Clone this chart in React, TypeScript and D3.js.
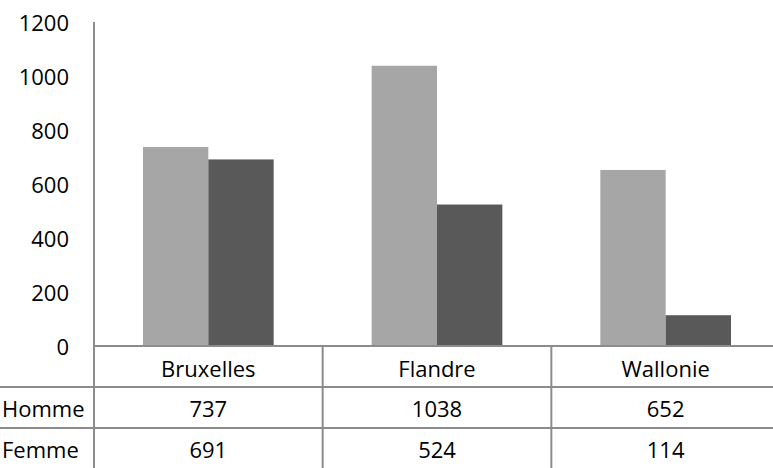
import React from "react";
import * as d3 from "d3";

const categories = ["Bruxelles", "Flandre", "Wallonie"];
const seriesNames = ["Homme", "Femme"];
const homme = [737, 1038, 652];
const femme = [691, 524, 114];
const yTicks = [0, 200, 400, 600, 800, 1000, 1200];
const colors = ["#a6a6a6", "#595959"];

export default function App() {
  const W = 773, H = 468;
  const x0 = 94, x1 = 780;
  const yTop = 22, yBase = 346;
  const row1 = 387, row2 = 428;
  const font = "'Open Sans', 'Liberation Sans', sans-serif";
  const fs = 22;

  const x = d3.scaleBand<string>().domain(categories).range([x0, x1]).paddingInner(0).paddingOuter(0);
  const y = d3.scaleLinear().domain([0, 1200]).range([yBase, yTop]);
  const values = [homme, femme];
  const bw = x.bandwidth();
  const barW = bw / 3.5;
  const gap = (bw - 2 * barW) / 2;
  const lineCol = "#8c8c8c";

  return (
    <svg width={W} height={H} style={{ position: "absolute", left: 0, top: 0, background: "#fff" }} fontFamily={font}>
      {yTicks.map((t) => (
        <text key={t} x={69} y={y(t)} textAnchor="end" dominantBaseline="central" fontSize={fs} fill="#000">
          {t}
        </text>
      ))}
      {categories.map((c, i) =>
        values.map((vals, s) => (
          <rect
            key={c + s}
            x={(x(c) as number) + gap + s * barW}
            y={y(vals[i])}
            width={barW}
            height={yBase - y(vals[i])}
            fill={colors[s]}
          />
        ))
      )}
      <line x1={x0} x2={x0} y1={yTop} y2={H} stroke={lineCol} strokeWidth={2} />
      <line x1={x0} x2={W} y1={yBase} y2={yBase} stroke={lineCol} strokeWidth={2} />
      <line x1={0} x2={W} y1={row1} y2={row1} stroke={lineCol} strokeWidth={2} />
      <line x1={0} x2={W} y1={row2} y2={row2} stroke={lineCol} strokeWidth={2} />
      {categories.slice(1).map((c) => (
        <line key={c} x1={x(c)} x2={x(c)} y1={yBase} y2={H} stroke={lineCol} strokeWidth={2} />
      ))}
      {categories.map((c) => (
        <text key={c} x={(x(c) as number) + bw / 2} y={368} textAnchor="middle" dominantBaseline="central" fontSize={fs} fill="#000">
          {c}
        </text>
      ))}
      {seriesNames.map((n, s) => {
        const cy = s === 0 ? 408 : 449;
        return (
          <g key={n}>
            <text x={2} y={cy} dominantBaseline="central" fontSize={fs} fill="#000">{n}</text>
            {categories.map((c, i) => (
              <text key={c} x={(x(c) as number) + bw / 2} y={cy} textAnchor="middle" dominantBaseline="central" fontSize={fs} fill="#000">
                {values[s][i]}
              </text>
            ))}
          </g>
        );
      })}
    </svg>
  );
}
